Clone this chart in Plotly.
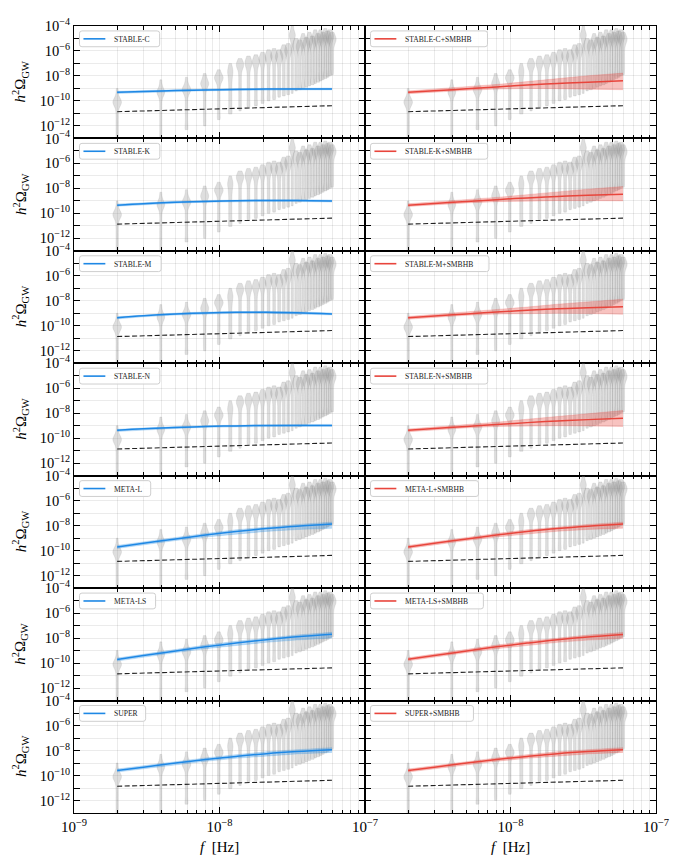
import numpy as np
import plotly.graph_objects as go

SERIF = "Liberation Serif"

# ---------------- frequency bins of the free spectrum (Hz) ----------------
FREQ_HZ = [1.98e-9, 3.95e-9, 5.93e-9, 7.91e-9, 9.89e-9, 11.86e-9, 13.84e-9, 15.82e-9,
           17.79e-9, 19.77e-9, 21.75e-9, 23.73e-9, 25.70e-9, 27.68e-9, 29.66e-9, 31.64e-9,
           33.61e-9, 35.59e-9, 37.57e-9, 39.54e-9, 41.52e-9, 43.50e-9, 45.48e-9, 47.45e-9,
           49.43e-9, 51.41e-9, 53.38e-9, 55.36e-9, 57.34e-9, 59.32e-9]

# ------------- representative posterior samples, log10(h^2 Omega_GW) -------------
V01 = [-9.0, -9.5, -9.8, -9.95, -10.05, -10.1, -10.15, -10.25, -10.4, -10.7, -11.1, -11.5, -11.9, -12.3, -12.7, -13.1, -13.5]
V02 = [-8.3, -8.7, -9.0, -9.15, -9.25, -9.3, -9.35, -9.45, -9.6, -9.9, -10.3, -10.7, -11.1, -11.5, -11.9, -12.3, -12.7, -13.1, -13.5]
V03 = [-8.1, -8.5, -8.8, -8.95, -9.05, -9.1, -9.15, -9.25, -9.4, -9.7, -10.1, -10.5, -10.9, -11.3, -11.7, -12.1, -12.3]
V04 = [-7.8, -8.1, -8.35, -8.5, -8.6, -8.65, -8.75, -8.9, -9.2, -9.6, -10.0, -10.4, -10.8, -11.2, -11.6, -12.0]
V05 = [-7.5, -7.8, -8.0, -8.1, -8.15, -8.2, -8.3, -8.5, -8.8, -9.2, -9.6, -10.0, -10.4, -10.8, -11.2, -11.5]
V06 = [-7.0, -7.3, -7.5, -7.65, -7.8, -8.0, -8.25, -8.5, -8.8, -9.1, -9.4, -9.7, -10.0, -10.3, -10.6, -10.9, -11.05]
V07 = [-6.6, -6.85, -7.0, -7.1, -7.2, -7.35, -7.6, -8.0, -8.4, -8.8, -9.2, -9.6, -10.0, -10.4, -10.8]
V08 = [-6.4, -6.65, -6.85, -6.95, -7.05, -7.2, -7.45, -7.8, -8.2, -8.6, -9.0, -9.4, -9.8, -10.2, -10.5]
V09 = [-6.3, -6.55, -6.75, -6.85, -6.95, -7.1, -7.35, -7.7, -8.1, -8.5, -8.9, -9.3, -9.7, -10.1, -10.4]
V10 = [-6.1, -6.35, -6.55, -6.65, -6.75, -6.9, -7.15, -7.5, -7.9, -8.3, -8.7, -9.1, -9.5, -9.9, -10.2]
V11 = [-5.9, -6.15, -6.35, -6.45, -6.55, -6.7, -6.95, -7.3, -7.7, -8.1, -8.5, -8.9, -9.3, -9.7, -10.0]
V12 = [-5.8, -6.05, -6.25, -6.35, -6.45, -6.6, -6.85, -7.2, -7.6, -8.0, -8.4, -8.8, -9.2, -9.6, -9.9]
V13 = [-5.9, -6.15, -6.35, -6.45, -6.55, -6.7, -6.95, -7.3, -7.7, -8.1, -8.5, -8.9, -9.3, -9.7]
V14 = [-5.5, -5.75, -5.95, -6.05, -6.15, -6.3, -6.55, -6.9, -7.3, -7.7, -8.1, -8.5, -8.9, -9.3, -9.6]
V15 = [-5.4, -5.65, -5.85, -5.95, -6.05, -6.2, -6.45, -6.8, -7.2, -7.6, -8.0, -8.4, -8.8, -9.2, -9.5]
V16 = [-3.8, -4.2, -4.5, -4.65, -4.75, -4.85, -5.0, -5.3, -5.7, -6.1, -6.5, -6.9, -7.3, -7.7, -8.1, -8.5, -8.9, -9.4]
V17 = [-5.0, -5.25, -5.45, -5.55, -5.65, -5.8, -6.05, -6.4, -6.8, -7.2, -7.6, -8.0, -8.4, -8.8, -9.2]
V18 = [-5.1, -5.35, -5.55, -5.65, -5.75, -5.9, -6.15, -6.5, -6.9, -7.3, -7.7, -8.1, -8.5, -8.9, -9.1]
V19 = [-4.6, -4.9, -5.1, -5.2, -5.3, -5.45, -5.7, -6.05, -6.45, -6.85, -7.25, -7.65, -8.05, -8.45, -8.8, -9.0]
V20 = [-4.9, -5.15, -5.35, -5.45, -5.55, -5.7, -5.95, -6.3, -6.7, -7.1, -7.5, -7.9, -8.3, -8.6, -8.9]
V21 = [-4.5, -4.8, -5.0, -5.1, -5.2, -5.35, -5.6, -5.95, -6.35, -6.75, -7.15, -7.55, -7.95, -8.35, -8.8]
V22 = [-4.8, -5.05, -5.25, -5.35, -5.45, -5.6, -5.85, -6.2, -6.6, -7.0, -7.4, -7.8, -8.2, -8.5, -8.7]
V23 = [-4.3, -4.6, -4.8, -4.95, -5.05, -5.2, -5.45, -5.8, -6.2, -6.6, -7.0, -7.4, -7.8, -8.2, -8.6]
V24 = [-4.6, -4.85, -5.05, -5.15, -5.25, -5.4, -5.65, -6.0, -6.4, -6.8, -7.2, -7.6, -8.0, -8.3, -8.5]
V25 = [-4.3, -4.6, -4.8, -4.95, -5.05, -5.2, -5.45, -5.8, -6.2, -6.6, -7.0, -7.4, -7.8, -8.1, -8.4]
V26 = [-4.5, -4.75, -4.95, -5.05, -5.15, -5.3, -5.55, -5.9, -6.3, -6.7, -7.1, -7.5, -7.9, -8.3]
V27 = [-4.2, -4.5, -4.7, -4.85, -4.95, -5.1, -5.35, -5.7, -6.1, -6.5, -6.9, -7.3, -7.7, -8.0, -8.2]
V28 = [-4.4, -4.65, -4.85, -4.95, -5.05, -5.2, -5.45, -5.8, -6.2, -6.6, -7.0, -7.4, -7.8, -8.1]
V29 = [-4.3, -4.55, -4.75, -4.85, -4.95, -5.1, -5.35, -5.7, -6.1, -6.5, -6.9, -7.3, -7.7, -8.0]
V30 = [-4.5, -4.75, -4.95, -5.05, -5.15, -5.3, -5.55, -5.9, -6.3, -6.7, -7.1, -7.5, -7.9]
VIOLINS = [V01, V02, V03, V04, V05, V06, V07, V08, V09, V10, V11, V12, V13, V14, V15,
           V16, V17, V18, V19, V20, V21, V22, V23, V24, V25, V26, V27, V28, V29, V30]

# ---------------- reference dashed curve ----------------
DASH_F = [1.98e-9, 1.0e-8, 5.93e-8]
DASH_LOG = [-10.86, -10.63, -10.38]

# ---------------- model curves: log10(h^2 Omega_GW) at MODEL_F ----------------
MODEL_F = [1.98e-9, 3.0e-9, 5.0e-9, 8.0e-9, 1.3e-8, 2.1e-8, 3.4e-8, 5.93e-8]

STABLE_C_MED = [-9.31, -9.24, -9.17, -9.12, -9.08, -9.05, -9.04, -9.04]
STABLE_C_LO  = [-9.40, -9.32, -9.25, -9.19, -9.15, -9.12, -9.11, -9.11]
STABLE_C_HI  = [-9.22, -9.16, -9.10, -9.05, -9.01, -8.98, -8.97, -8.97]
STABLE_K_MED = [-9.34, -9.22, -9.11, -9.04, -8.99, -8.97, -8.97, -9.01]
STABLE_K_LO  = [-9.43, -9.30, -9.19, -9.11, -9.06, -9.04, -9.05, -9.09]
STABLE_K_HI  = [-9.25, -9.14, -9.03, -8.97, -8.92, -8.90, -8.90, -8.93]
STABLE_M_MED = [-9.36, -9.20, -9.06, -8.97, -8.92, -8.92, -8.96, -9.05]
STABLE_M_LO  = [-9.45, -9.28, -9.14, -9.05, -9.00, -9.00, -9.04, -9.13]
STABLE_M_HI  = [-9.27, -9.12, -8.98, -8.89, -8.84, -8.84, -8.88, -8.97]
STABLE_N_MED = [-9.37, -9.25, -9.14, -9.06, -9.01, -8.98, -8.97, -8.97]
STABLE_N_LO  = [-9.46, -9.33, -9.22, -9.13, -9.08, -9.05, -9.04, -9.05]
STABLE_N_HI  = [-9.28, -9.17, -9.06, -8.99, -8.94, -8.91, -8.90, -8.89]
META_L_MED   = [-9.70, -9.40, -9.06, -8.75, -8.47, -8.23, -8.04, -7.87]
META_L_LO    = [-9.82, -9.52, -9.19, -8.91, -8.66, -8.46, -8.31, -8.21]
META_L_HI    = [-9.58, -9.28, -8.94, -8.62, -8.33, -8.09, -7.90, -7.72]
META_LS_MED  = [-9.72, -9.40, -9.03, -8.70, -8.40, -8.13, -7.90, -7.70]
META_LS_LO   = [-9.84, -9.52, -9.16, -8.85, -8.58, -8.34, -8.15, -8.00]
META_LS_HI   = [-9.60, -9.28, -8.90, -8.56, -8.25, -7.98, -7.75, -7.54]
SUPER_MED    = [-9.60, -9.33, -9.00, -8.72, -8.47, -8.25, -8.08, -7.93]
SUPER_LO     = [-9.72, -9.45, -9.13, -8.86, -8.62, -8.42, -8.27, -8.15]
SUPER_HI     = [-9.48, -9.21, -8.88, -8.59, -8.33, -8.10, -7.93, -7.77]

STABLE_C_SMBHB_MED = [-9.31, -9.18, -9.03, -8.88, -8.72, -8.60, -8.50, -8.38]
STABLE_C_SMBHB_LO  = [-9.42, -9.28, -9.15, -9.05, -9.00, -9.02, -9.05, -9.10]
STABLE_C_SMBHB_HI  = [-9.20, -9.05, -8.88, -8.68, -8.45, -8.20, -7.98, -7.77]
STABLE_K_SMBHB_MED = [-9.34, -9.20, -9.05, -8.90, -8.76, -8.64, -8.55, -8.46]
STABLE_K_SMBHB_LO  = [-9.45, -9.30, -9.16, -9.06, -9.00, -8.98, -8.98, -9.00]
STABLE_K_SMBHB_HI  = [-9.23, -9.08, -8.92, -8.72, -8.50, -8.27, -8.06, -7.85]
STABLE_M_SMBHB_MED = [-9.36, -9.21, -9.05, -8.90, -8.76, -8.64, -8.56, -8.48]
STABLE_M_SMBHB_LO  = [-9.47, -9.31, -9.16, -9.06, -9.01, -9.00, -9.02, -9.08]
STABLE_M_SMBHB_HI  = [-9.25, -9.09, -8.92, -8.72, -8.50, -8.27, -8.06, -7.87]
STABLE_N_SMBHB_MED = [-9.37, -9.22, -9.06, -8.90, -8.75, -8.62, -8.51, -8.40]
STABLE_N_SMBHB_LO  = [-9.48, -9.32, -9.17, -9.06, -9.00, -9.00, -9.02, -9.06]
STABLE_N_SMBHB_HI  = [-9.26, -9.10, -8.93, -8.72, -8.48, -8.24, -8.00, -7.78]
META_L_SMBHB_MED   = [-9.70, -9.40, -9.06, -8.75, -8.47, -8.23, -8.04, -7.87]
META_L_SMBHB_LO    = [-9.82, -9.52, -9.19, -8.90, -8.65, -8.45, -8.30, -8.20]
META_L_SMBHB_HI    = [-9.58, -9.28, -8.94, -8.62, -8.33, -8.09, -7.90, -7.72]
META_LS_SMBHB_MED  = [-9.70, -9.39, -9.03, -8.70, -8.40, -8.13, -7.91, -7.71]
META_LS_SMBHB_LO   = [-9.82, -9.51, -9.16, -8.85, -8.58, -8.34, -8.16, -8.02]
META_LS_SMBHB_HI   = [-9.58, -9.27, -8.90, -8.56, -8.25, -7.98, -7.76, -7.55]
SUPER_SMBHB_MED    = [-9.60, -9.33, -9.00, -8.72, -8.47, -8.25, -8.08, -7.93]
SUPER_SMBHB_LO     = [-9.72, -9.45, -9.13, -8.86, -8.62, -8.42, -8.27, -8.15]
SUPER_SMBHB_HI     = [-9.48, -9.21, -8.88, -8.59, -8.33, -8.10, -7.93, -7.77]

BLUE, BLUE_BAND = "#1e88e5", "rgba(30,136,229,0.30)"
RED, RED_BAND = "#e8453c", "rgba(232,69,60,0.32)"

PANELS = [
    ("STABLE-C", STABLE_C_MED, STABLE_C_LO, STABLE_C_HI, BLUE, BLUE_BAND),
    ("STABLE-C+SMBHB", STABLE_C_SMBHB_MED, STABLE_C_SMBHB_LO, STABLE_C_SMBHB_HI, RED, RED_BAND),
    ("STABLE-K", STABLE_K_MED, STABLE_K_LO, STABLE_K_HI, BLUE, BLUE_BAND),
    ("STABLE-K+SMBHB", STABLE_K_SMBHB_MED, STABLE_K_SMBHB_LO, STABLE_K_SMBHB_HI, RED, RED_BAND),
    ("STABLE-M", STABLE_M_MED, STABLE_M_LO, STABLE_M_HI, BLUE, BLUE_BAND),
    ("STABLE-M+SMBHB", STABLE_M_SMBHB_MED, STABLE_M_SMBHB_LO, STABLE_M_SMBHB_HI, RED, RED_BAND),
    ("STABLE-N", STABLE_N_MED, STABLE_N_LO, STABLE_N_HI, BLUE, BLUE_BAND),
    ("STABLE-N+SMBHB", STABLE_N_SMBHB_MED, STABLE_N_SMBHB_LO, STABLE_N_SMBHB_HI, RED, RED_BAND),
    ("META-L", META_L_MED, META_L_LO, META_L_HI, BLUE, BLUE_BAND),
    ("META-L+SMBHB", META_L_SMBHB_MED, META_L_SMBHB_LO, META_L_SMBHB_HI, RED, RED_BAND),
    ("META-LS", META_LS_MED, META_LS_LO, META_LS_HI, BLUE, BLUE_BAND),
    ("META-LS+SMBHB", META_LS_SMBHB_MED, META_LS_SMBHB_LO, META_LS_SMBHB_HI, RED, RED_BAND),
    ("SUPER", SUPER_MED, SUPER_LO, SUPER_HI, BLUE, BLUE_BAND),
    ("SUPER+SMBHB", SUPER_SMBHB_MED, SUPER_SMBHB_LO, SUPER_SMBHB_HI, RED, RED_BAND),
]

X_MAJOR = [1e-9, 1e-8, 1e-7]
X_MINOR = [m * d for d in (1e-9, 1e-8) for m in range(2, 10)]
Y_MAJOR = [1e-12, 1e-10, 1e-8, 1e-6, 1e-4]
Y_MAJOR_TXT = ["10<sup>−12</sup>", "10<sup>−10</sup>", "10<sup>−8</sup>", "10<sup>−6</sup>", "10<sup>−4</sup>"]
Y_MINOR = [1e-13, 1e-11, 1e-9, 1e-7, 1e-5]

NROW, NCOL = 7, 2
# page body has an 8px margin: figure div is offset by 8px
W, H = 669, 850
ML, MR, MT, MB = 66, 18, 8, 45
PW, PH = W - ML - MR, H - MT - MB

GRID = "rgba(0,0,0,0.08)"

# approximate glyph widths (px) of the legend font, used to size legend boxes
CHAR_W = {"S": 4.9, "T": 5.6, "A": 6.0, "B": 5.6, "L": 5.0, "E": 5.4, "C": 5.8, "K": 6.0,
          "M": 7.3, "N": 6.0, "H": 6.0, "P": 5.4, "R": 5.8, "U": 6.0, "-": 3.3, "+": 7.6}

fig = go.Figure()
layout = {}
annotations = []
shapes = []


def sfx(n):
    return "" if n == 1 else str(n)


def px2paper(px, py):
    return px / PW, 1 - py / PH


def rounded_box(x0, y0, x1, y1, rad):
    # pixel coords (y down, relative to plot area) -> svg path in paper coords
    def p(x, y):
        a, b = px2paper(x, y)
        return f"{a:.5f},{b:.5f}"
    return (f"M{p(x0 + rad, y0)} L{p(x1 - rad, y0)} Q{p(x1, y0)} {p(x1, y0 + rad)} "
            f"L{p(x1, y1 - rad)} Q{p(x1, y1)} {p(x1 - rad, y1)} L{p(x0 + rad, y1)} "
            f"Q{p(x0, y1)} {p(x0, y1 - rad)} L{p(x0, y0 + rad)} Q{p(x0, y0)} {p(x0 + rad, y0)} Z")


vx, vy = [], []
for f, s in zip(FREQ_HZ, VIOLINS):
    vx += [np.log10(f)] * len(s)
    vy += s
mf = np.array(MODEL_F)

for i, (name, med, lo, hi, col, band) in enumerate(PANELS):
    r, c = divmod(i, NCOL)
    n, m = i + 1, i + 1 + NROW * NCOL
    xb, yb = "x" + sfx(n), "y" + sfx(n)
    xo, yo = "x" + str(m), "y" + str(m)
    dom_x = [c / NCOL, (c + 1) / NCOL]
    dom_y = [1 - (r + 1) / NROW, 1 - r / NROW]

    # base (linear, log10-space) axes hold the violins, hidden
    layout["xaxis" + sfx(n)] = dict(domain=dom_x, range=[-9, -7], anchor=yb, visible=False)
    layout["yaxis" + sfx(n)] = dict(domain=dom_y, range=[-13, -4], anchor=xb, visible=False)

    bottom = r == NROW - 1
    xticktext = ["10<sup>−9</sup>", "10<sup>−8</sup>", "10<sup>−7</sup>"] if c == 0 else ["", "10<sup>−8</sup>", "10<sup>−7</sup>"]
    layout["xaxis" + str(m)] = dict(
        type="log", range=[-9, -7], overlaying=xb, anchor=yo, side="bottom",
        tickmode="array", tickvals=X_MAJOR, ticktext=xticktext, showticklabels=bottom,
        ticks="inside", ticklen=6, tickwidth=1, tickcolor="black",
        minor=dict(tickvals=X_MINOR, ticks="inside", ticklen=3.5, tickwidth=0.8, tickcolor="black",
                   showgrid=True, gridcolor=GRID, gridwidth=1),
        showline=True, linecolor="black", linewidth=1, mirror="allticks",
        showgrid=True, gridcolor=GRID, gridwidth=1, zeroline=False,
        tickfont=dict(family=SERIF, size=15, color="black"),
    )
    layout["yaxis" + str(m)] = dict(
        type="log", range=[-13, -4], overlaying=yb, anchor=xo, side="left",
        tickmode="array", tickvals=Y_MAJOR, ticktext=Y_MAJOR_TXT, showticklabels=(c == 0),
        ticks="inside", ticklen=6, tickwidth=1, tickcolor="black",
        minor=dict(tickvals=Y_MINOR, ticks="inside", ticklen=6, tickwidth=1, tickcolor="black",
                   showgrid=True, gridcolor=GRID, gridwidth=1),
        showline=True, linecolor="black", linewidth=1, mirror="allticks",
        showgrid=True, gridcolor=GRID, gridwidth=1, zeroline=False,
        tickfont=dict(family=SERIF, size=14.5, color="black"),
    )

    # violins
    fig.add_trace(go.Violin(
        x=vx, y=vy, xaxis=xb, yaxis=yb, width=0.06, scalemode="width", spanmode="hard",
        bandwidth=0.25, points=False, box_visible=False, meanline_visible=False,
        fillcolor="rgba(150,150,150,0.31)", line=dict(color="rgba(140,140,140,0.32)", width=0.5),
        showlegend=False, hoverinfo="skip",
    ))

    # dashed reference
    fig.add_trace(go.Scatter(
        x=DASH_F, y=10 ** np.array(DASH_LOG), xaxis=xo, yaxis=yo, mode="lines",
        line=dict(color="#222222", width=1.1, dash="5px,2.5px"), showlegend=False, hoverinfo="skip",
    ))
    # band
    fig.add_trace(go.Scatter(
        x=mf, y=10 ** np.array(hi), xaxis=xo, yaxis=yo, mode="lines",
        line=dict(color=band, width=0.6), showlegend=False, hoverinfo="skip",
    ))
    fig.add_trace(go.Scatter(
        x=mf, y=10 ** np.array(lo), xaxis=xo, yaxis=yo, mode="lines", fill="tonexty",
        fillcolor=band, line=dict(color=band, width=0.6), showlegend=False, hoverinfo="skip",
    ))
    # median
    fig.add_trace(go.Scatter(
        x=mf, y=10 ** np.array(med), xaxis=xo, yaxis=yo, mode="lines", line_shape="spline",
        line=dict(color=col, width=1.5), name=name, showlegend=False,
    ))

    # legend box (frame, line sample, label) drawn in panel pixel offsets
    left = c * PW / NCOL
    top = r * PH / NROW
    text_w = 1.0 * sum(CHAR_W.get(ch, 5.5) for ch in name)
    bx0, by0, bx1, by1 = left + 5.5, top + 5, left + 39.5 + text_w + 5, top + 21
    shapes.append(dict(type="path", xref="paper", yref="paper", layer="above",
                       path=rounded_box(bx0, by0, bx1, by1, 2.5),
                       fillcolor="rgba(255,255,255,0.85)", line=dict(color="#cfcfcf", width=1)))
    lx0, ly = px2paper(left + 9.5, top + 13)
    lx1, _ = px2paper(left + 31.5, top + 13)
    shapes.append(dict(type="line", xref="paper", yref="paper", layer="above",
                       x0=lx0, x1=lx1, y0=ly, y1=ly, line=dict(color=col, width=1.6)))
    tx, ty = px2paper(left + 38.5, top + 13.5)
    annotations.append(dict(x=tx, y=ty, xref="paper", yref="paper", text=name, showarrow=False,
                            xanchor="left", yanchor="middle",
                            font=dict(family=SERIF, size=7.6, color="#222")))

    if c == 0:
        annotations.append(dict(
            x=-54 / PW, y=(dom_y[0] + dom_y[1]) / 2, xref="paper", yref="paper",
            text="<i>h</i><sup>2</sup>Ω<sub>GW</sub>", textangle=-90, showarrow=False,
            font=dict(family=SERIF, size=15, color="black"), xanchor="center", yanchor="middle",
        ))

for c in range(NCOL):
    annotations.append(dict(
        x=(c + 0.5) / NCOL, y=-34 / PH, xref="paper", yref="paper", text="<i>f</i>  [Hz]",
        showarrow=False, font=dict(family=SERIF, size=15, color="black"),
        xanchor="center", yanchor="middle",
    ))

fig.update_layout(
    width=W, height=H, margin=dict(l=ML, r=MR, t=MT, b=MB),
    paper_bgcolor="white", plot_bgcolor="white", showlegend=False,
    violinmode="overlay", violingap=0,
    annotations=annotations, shapes=shapes, **layout,
)

fig.write_html("out.html")
